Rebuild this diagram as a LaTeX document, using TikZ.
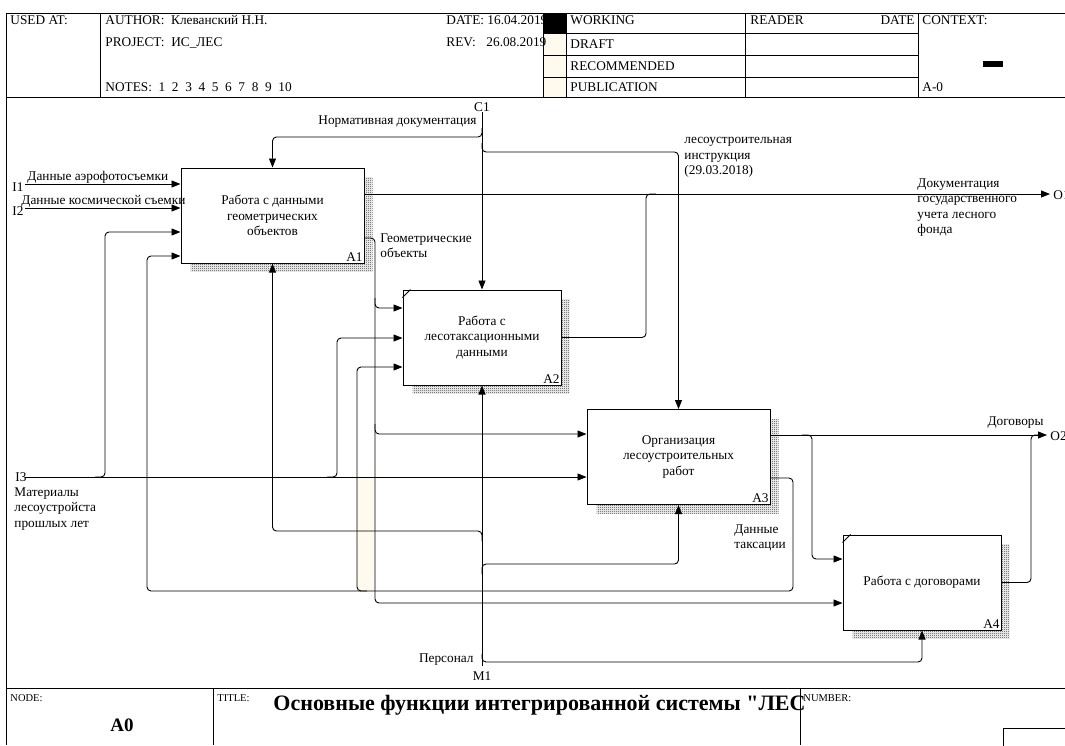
\documentclass[tikz,border=0pt]{standalone}
\usepackage{fontspec}
\setmainfont{Liberation Serif}
\usetikzlibrary{arrows.meta,patterns,calc}

\newcommand{\txt}{\fontsize{13.3}{15.5}\selectfont}
\newcommand{\smalltxt}{\fontsize{10.5}{12}\selectfont}
\definecolor{cream}{RGB}{255,249,238}

% fine checker pattern for the box shadows
\pgfdeclarepatternformonly{checker}{\pgfpoint{0pt}{0pt}}{\pgfpoint{2pt}{2pt}}{\pgfpoint{2pt}{2pt}}{%
  \pgfpathrectangle{\pgfpoint{0pt}{0pt}}{\pgfpoint{1pt}{1pt}}%
  \pgfpathrectangle{\pgfpoint{1pt}{1pt}}{\pgfpoint{1pt}{1pt}}%
  \pgfusepath{fill}}

\tikzset{
  func/.style={draw, fill=white, line width=1pt, minimum height=95, align=center, font=\txt, inner sep=2pt},
  num/.style={label={[font=\txt, anchor=south east, inner sep=1.5pt]south east:#1}},
  arr/.style={-{Triangle[length=9,width=7]}, rounded corners=4},
  merge/.style={rounded corners=4},
  lbl/.style={font=\txt, inner sep=0pt, align=left},
  hdr/.style={font=\txt, inner sep=0pt, anchor=base west},
  shade/.style={pattern=checker, pattern color=black!80}
}

\newcommand{\funcshadow}[1]{%
  \fill[shade] ($(#1.north east)+(0,10)$) rectangle ($(#1.south east)+(8,8)$);
  \fill[shade] ($(#1.south west)+(10,0)$) rectangle ($(#1.south east)+(0,8)$);
}

\begin{document}
\begin{tikzpicture}[x=1pt, y=-1pt, line width=0.9pt]
\useasboundingbox (0,0) rectangle (1065,745);

% Header frame
    \fill[cream] (543,33) rectangle (566,97);
    \draw (6,745) -- (6,13) -- (1075,13);
    \draw (6,97) -- (1075,97);
    \draw (100,13) -- (100,97);
    \draw (543,13) -- (543,97);
    \draw (566,13) -- (566,97);
    \draw (745,13) -- (745,97);
    \draw (918,13) -- (918,97);
    \foreach \y in {33,55,77}
        \draw (543,\y) -- (918,\y);
    \node[hdr] (usedat) at (10,24) {USED AT:};
    \node[hdr] (author) at (105,24) {AUTHOR:\ \ Клеванский Н.Н.};
    \node[hdr] (project) at (105,46) {PROJECT:\ \ ИС\_ЛЕС};
    \node[hdr] (notes) at (105,91) {NOTES:\ \ 1\ \ 2\ \ 3\ \ 4\ \ 5\ \ 6\ \ 7\ \ 8\ \ 9\ \ 10};
    \node[hdr] (date) at (446,24) {DATE: 16.04.2019};
    \node[hdr] (rev) at (446,46) {REV:};
    \node[hdr] (revdate) at (486,46) {26.08.2019};
    \fill (543,13) rectangle (566,33);
    \node[hdr] (working) at (570,24) {WORKING};
    \node[hdr] (draft) at (570,48) {DRAFT};
    \node[hdr] (recommended) at (570,70) {RECOMMENDED};
    \node[hdr] (publication) at (570,91) {PUBLICATION};
    \node[hdr] (reader) at (750,24) {READER};
    \node[hdr, anchor=base east] (rdate) at (915,24) {DATE};
    \node[hdr] (context) at (922,24) {CONTEXT:};
    \fill (983,61) rectangle (1003,67);
    \node[hdr] (ctxnode) at (922,91) {A-0};

% Footer frame
    \draw (6,688) -- (1075,688);
    \draw (213,688) -- (213,745);
    \draw (800,688) -- (800,745);
    \draw (1003,760) -- (1003,728) -- (1075,728);
    \node[hdr, font=\smalltxt] (nodelbl) at (10,701) {NODE:};
    \node[font=\fontsize{19}{21}\selectfont\bfseries, inner sep=0pt] (nodeno) at (122,725) {A0};
    \node[hdr, font=\smalltxt] (titlelbl) at (217,701) {TITLE:};
    \node[hdr, font=\fontsize{22}{24}\selectfont\bfseries\addfontfeature{Ligatures=TeXOff}] (title) at (273,710) {Основные функции интегрированной системы "ЛЕС};
    \node[hdr, font=\smalltxt] (numberlbl) at (803,701) {NUMBER:};

% Cream band
    \fill[cream] (357,478) rectangle (374,591);

% Function boxes
    \node[func, minimum width=183, num=A1] (A1) at (272.5,215.5) {Работа с данными\\геометрических\\объектов};
    \node[func, minimum width=158, num=A2] (A2) at (482,337.5) {Работа с\\лесотаксационными\\данными};
    \node[func, minimum width=183, num=A3] (A3) at (678.5,457) {Организация\\лесоустроительных\\работ};
    \node[func, minimum width=158, num=A4] (A4) at (922,582.5) {Работа с договорами};
    \funcshadow{A1}
    \funcshadow{A2}
    \funcshadow{A3}
    \funcshadow{A4}
    \draw ($(A2.north west)+(0,8)$) -- ++(8,-8);
    \draw ($(A4.north west)+(0,8)$) -- ++(8,-8);

% Controls
    \coordinate (c1) at (482,112);
    \draw[arr] (c1) -- (A2.north);
    \draw[arr] (482,128) -- (482,137) -| (A1.north);
    \draw[arr] (482,143) -- (482,152) -| (A3.north);
    \node[lbl, anchor=base] (c1lbl) at (482,111) {C1};
    \node[lbl, anchor=base east] (normdoc) at (477,124) {Нормативная документация};
    \node[lbl, anchor=north west] (instr) at (684,137) {лесоустроительная\\инструкция\\(29.03.2018)};

% Inputs
    \coordinate (i1) at (25,184);
    \coordinate (i2) at (25,208);
    \coordinate (i3) at (25,477);
    \draw[arr] (i1) -- (i1 -| A1.west);
    \draw[arr] (i2) -- (i2 -| A1.west);
    \draw[arr] (i3) -- (i3 -| A3.west);
    \draw[arr] (95,477) -- (105,477) -- (105,232) -- (A1.west |- 0,232);
    \draw[arr] (327,477) -- (337,477) -- (337,338) -- (A2.west |- 0,338);
    \node[hdr] (i1lbl) at (12,191) {I1};
    \node[hdr] (aero) at (27,180) {Данные аэрофотосъемки};
    \node[hdr] (i2lbl) at (12,215) {I2};
    \node[hdr] (space) at (21,204) {Данные космической съемки};
    \node[hdr] (i3lbl) at (15,481) {I3};
    \node[lbl, anchor=north west] (past) at (14,487) {Материалы\\лесоустройста\\прошлых лет};

% Outputs of A1
    \coordinate (o1) at (1050,194);
    \draw[arr] (A1.east |- o1) -- (o1);
    \node[lbl, anchor=west] (o1lbl) at (1053,195) {O1};
    \node[lbl, anchor=north west] (docs) at (917,178) {Документация\\государственного\\учета лесного\\фонда};
    \draw[arr] (A1.east |- 0,238) -- (375,238) -- (375,603) -- (A4.west |- 0,603);
    \draw[arr] (375,298) -- (375,308) -- (A2.west |- 0,308);
    \draw[arr] (375,424) -- (375,434) -- (A3.west |- 0,434);
    \node[lbl, anchor=north west] (geo) at (380,233) {Геометрические\\объекты};

% Output of A2
    \draw[merge] (A2.east) -| (646,194) -- (656,194);

% Outputs of A3
    \coordinate (o2) at (1047,435);
    \draw[arr] (A3.east |- o2) -- (o2);
    \node[lbl, anchor=west] (o2lbl) at (1050,436) {O2};
    \node[lbl, anchor=base east] (contracts) at (1044,425) {Договоры};
    \draw[arr] (802,435) -- (812,435) -- (812,559) -- (A4.west |- 0,559);
    \draw[arr] (A3.east |- 0,478) -- (793,478) -- (793,591) -- (147,591) -- (147,256) -- (A1.west |- 0,256);
    \draw[arr] (367,591) -- (357,591) -- (357,367) -- (A2.west |- 0,367);
    \node[lbl, anchor=north west] (taxdata) at (734,524) {Данные\\таксации};

% Output of A4
    \draw[merge] (A4.east) -| (1031,435) -- (1041,435);

% Mechanisms
    \coordinate (m1) at (482,666);
    \draw[arr] (m1) -- (A2.south);
    \draw[arr] (482,654) -- (482,662) -| (A4.south);
    \draw[arr] (482,574) -- (482,564) -| (A3.south);
    \draw[arr] (482,541) -- (482,531) -| (A1.south);
    \node[lbl, anchor=base east] (staff) at (474,662) {Персонал};
    \node[lbl, anchor=base] (m1lbl) at (482,680) {M1};
\end{tikzpicture}
\end{document}
